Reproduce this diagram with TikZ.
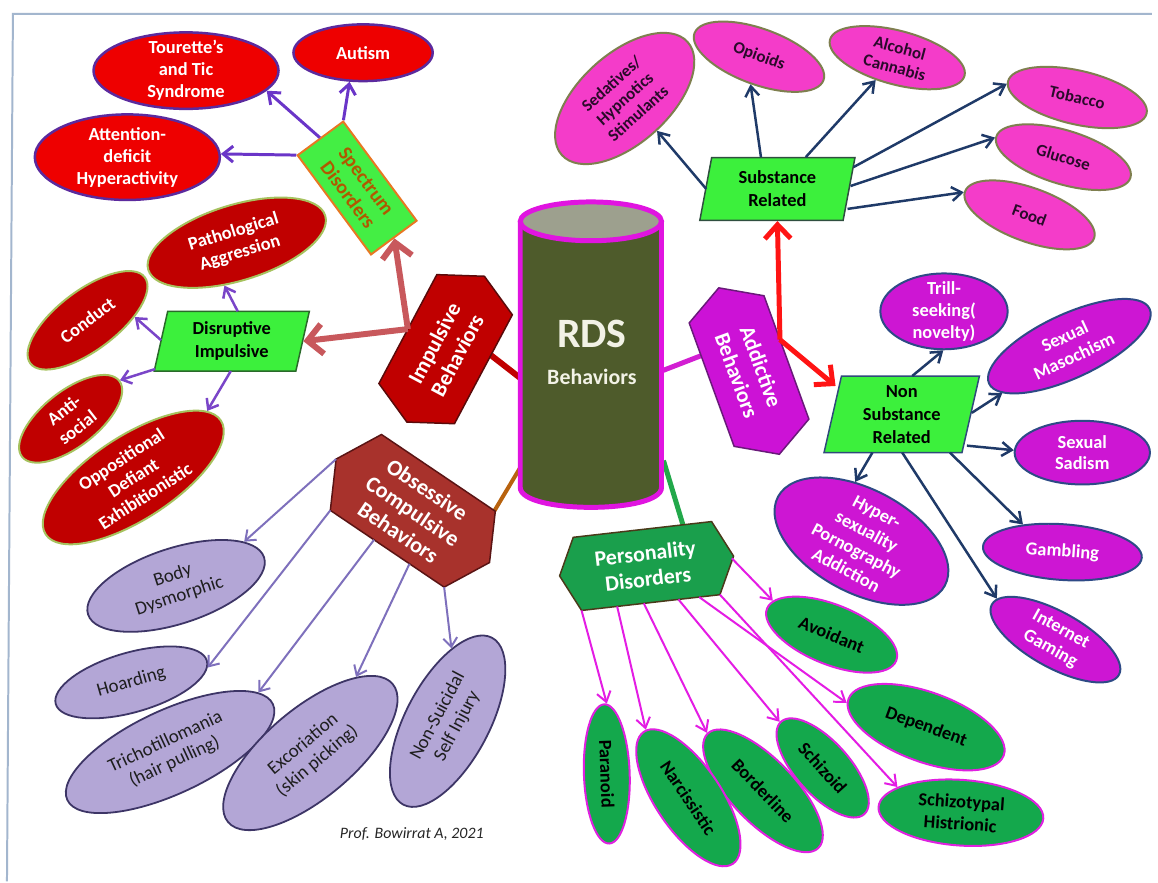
\documentclass[tikz,border=0pt]{standalone}
\usepackage{fontspec}
\setmainfont{Carlito}
\usetikzlibrary{shapes.geometric,arrows.meta,backgrounds}
\definecolor{frameC}{HTML}{A3B6CE}
\definecolor{redA}{HTML}{EE0000}
\definecolor{purpA}{HTML}{5B2A9E}
\definecolor{dredA}{HTML}{C00000}
\definecolor{oliveB}{HTML}{A6C25E}
\definecolor{impF}{HTML}{C00000}
\definecolor{impD}{HTML}{5A0A0A}
\definecolor{specF}{HTML}{44EE44}
\definecolor{specD}{HTML}{E87722}
\definecolor{specT}{HTML}{B05800}
\definecolor{pgF}{HTML}{3CF03C}
\definecolor{disD}{HTML}{2A6A2A}
\definecolor{subD}{HTML}{2F4F3F}
\definecolor{nsD}{HTML}{2F4A7A}
\definecolor{pinkA}{HTML}{F43CC9}
\definecolor{oliveC}{HTML}{7F7F4F}
\definecolor{pinkT}{HTML}{2A0A2A}
\definecolor{magA}{HTML}{CD16D3}
\definecolor{navyB}{HTML}{2E4A86}
\definecolor{addF}{HTML}{CC12D6}
\definecolor{addD}{HTML}{6A1A7A}
\definecolor{grnA}{HTML}{14A84C}
\definecolor{persF}{HTML}{1A9F4C}
\definecolor{persD}{HTML}{4A3A1A}
\definecolor{magB}{HTML}{E020E0}
\definecolor{lavA}{HTML}{B3A6D6}
\definecolor{lavB}{HTML}{3D3566}
\definecolor{lavT}{HTML}{1E1E1E}
\definecolor{ocbF}{HTML}{A8322C}
\definecolor{ocbD}{HTML}{5A1414}
\definecolor{cylF}{HTML}{4E5B2B}
\definecolor{cylTop}{HTML}{9DA08E}
\definecolor{cylD}{HTML}{E014E0}
\definecolor{rdsT}{HTML}{F2F2E6}
\definecolor{impArr}{HTML}{C8585C}
\definecolor{specArr}{HTML}{6A35C8}
\definecolor{disArr}{HTML}{7A45C8}
\definecolor{ocbArr}{HTML}{7E70BC}
\definecolor{navyArr}{HTML}{1F3A68}
\definecolor{persArr}{HTML}{E41CE4}
\definecolor{redArr}{HTML}{FF1414}
\definecolor{lnOcbC}{HTML}{B8620E}
\definecolor{lnPersC}{HTML}{22A84A}
\definecolor{lnAddC}{HTML}{D21ED2}
\begin{document}
\begin{tikzpicture}[x=1pt,y=-1pt,
  ell/.style={ellipse, inner sep=-3pt, align=center, font=\bfseries\fontsize{18.5}{22}\selectfont},
  redell/.style={ell, fill=redA, draw=purpA, line width=2.5pt, text=white},
  dredell/.style={ell, fill=dredA, draw=oliveB, line width=2pt, text=white},
  pinkell/.style={ell, fill=pinkA, draw=oliveC, line width=2pt, text=pinkT, font=\bfseries\fontsize{17}{20}\selectfont},
  magell/.style={ell, fill=magA, draw=navyB, line width=2pt, text=white},
  grnell/.style={ell, fill=grnA, draw=magB, line width=2pt, text=black},
  lavell/.style={ell, fill=lavA, draw=lavB, line width=1.8pt, text=lavT, font=\fontsize{19}{22}\selectfont},
  pgram/.style={trapezium, trapezium stretches=true, fill=pgF, line width=1.5pt, align=center, inner sep=0pt, text=black, font=\bfseries\fontsize{18.5}{23}\selectfont},
  specbox/.style={rectangle, fill=specF, draw=specD, line width=2pt, align=center, inner sep=0pt, text=specT, font=\bfseries\fontsize{20}{23}\selectfont},
  hexImp/.style={fill=impF, draw=impD, line width=1.5pt},
  hexAdd/.style={fill=addF, draw=addD, line width=1.5pt},
  hexOcb/.style={fill=ocbF, draw=ocbD, line width=1.5pt},
  hexPers/.style={fill=persF, draw=persD, line width=1.5pt},
  hexText/.style={align=center, inner sep=0pt, text=white, font=\bfseries\fontsize{22}{26}\selectfont},
  aImp/.style={draw=impArr, line width=6pt, -{Straight Barb[length=15pt,width=30pt]}},
  aRed/.style={draw=redArr, line width=5pt, -{Straight Barb[length=14pt,width=26pt]}},
  aSpec/.style={draw=specArr, line width=3pt, -{Straight Barb[length=10pt,width=16pt]}},
  aDis/.style={draw=disArr, line width=2.5pt, -{Straight Barb[length=9pt,width=14pt]}},
  aOcb/.style={draw=ocbArr, line width=2pt, -{Straight Barb[length=9pt,width=14pt]}},
  aNavy/.style={draw=navyArr, line width=2.5pt, -{Straight Barb[length=10pt,width=14pt]}},
  aPers/.style={draw=persArr, line width=2pt, -{Straight Barb[length=10pt,width=14pt]}}
]
\begin{pgfonlayer}{background}
\path[use as bounding box, fill=white] (0,0) rectangle (1158,886);
\end{pgfonlayer}
% frame
\draw[frameC, line width=2pt] (1158,14) -- (13,14) -- (7,886);

% ---------- central cylinder ----------
\fill[cylF] (523,223) -- (523,490) .. controls (523,516.7) and (665,516.7) .. (665,490) -- (665,223) -- cycle;
\draw[cylD, line width=5pt] (523,223) -- (523,490) .. controls (523,516.7) and (665,516.7) .. (665,490) -- (665,223);
\draw[cylD, line width=5pt, fill=cylTop] (594,222.5) ellipse [x radius=71, y radius=19.5];
\node[text=rdsT, font=\bfseries\fontsize{42}{46}\selectfont, inner sep=0pt] (rds) at (595,336) {RDS};
\node[text=rdsT, font=\bfseries\fontsize{22}{26}\selectfont, inner sep=0pt] (rdsb) at (595,379) {Behaviors};
\coordinate (cylImp) at (523,380);
\coordinate (cylAdd) at (665,373);
\coordinate (cylOcb) at (523,470);
\coordinate (cylPers) at (667,463);

% ---------- hexagons ----------
\begin{scope}[shift={(448,351)}, rotate=62]
  \draw[hexImp] (-83,0) -- (-62,-43) -- (62,-43) -- (83,0) -- (62,43) -- (-62,43) -- cycle;
  \node[hexText, transform shape] (imp) at (0,0) {Impulsive\\Behaviors};
  \coordinate (impN) at (0,-43);
  \coordinate (impS) at (16,43);
\end{scope}
\begin{scope}[shift={(753,373)}, rotate=-70]
  \draw[hexAdd] (-89,0) -- (-66,-40) -- (66,-40) -- (89,0) -- (66,40) -- (-66,40) -- cycle;
  \node[hexText, transform shape] (add) at (0,0) {Addictive\\Behaviors};
  \coordinate (addW) at (-31,40);
  \coordinate (addJ) at (-19,-40);
\end{scope}
\begin{scope}[shift={(415,513.5)}, rotate=-34]
  \draw[hexOcb] (-93,0) -- (-69,-46) -- (69,-46) -- (93,0) -- (69,46) -- (-69,46) -- cycle;
  \node[hexText, transform shape, font=\bfseries\fontsize{22.5}{26}\selectfont] (ocb) at (0,0) {Obsessive\\Compulsive\\Behaviors};
  \coordinate (ocbNE) at (68,-46);
  \coordinate (ocbBody) at (-93,0);
  \coordinate (ocbHoard) at (-69,46);
  \coordinate (ocbTrich) at (-16,46);
  \coordinate (ocbExc) at (27,46);
  \coordinate (ocbNssi) at (69,46);
\end{scope}
\begin{scope}[shift={(650,569)}, rotate=6.5]
  \draw[hexPers] (-88,0) -- (-70,-37) -- (70,-37) -- (88,0) -- (70,37) -- (-70,37) -- cycle;
  \node[hexText, transform shape] (pers) at (0,0) {Personality\\Disorders};
  \coordinate (persN) at (41,-37);
  \coordinate (pPara) at (-70,37);
  \coordinate (pNarc) at (-34,37);
  \coordinate (pBord) at (-7,37);
  \coordinate (pSchzd) at (28,37);
  \coordinate (pDep) at (49,37);
  \coordinate (pSchtyp) at (70,37);
  \coordinate (pAvoid) at (86,2);
\end{scope}

% ---------- impulsive branch ----------
\node[specbox, minimum width=124, minimum height=57, rotate=-53.5] (spec) at (359,189) {Spectrum\\Disorders};
\node[redell, minimum width=186, minimum height=76] (tour) at (187,71) {Tourette’s\\and Tic\\Syndrome};
\node[redell, minimum width=140, minimum height=57] (aut) at (365,53) {Autism};
\node[redell, minimum width=186, minimum height=86] (adhd) at (128,158) {Attention-\\deficit\\Hyperactivity};
\node[pgram, draw=disD, trapezium left angle=78, trapezium right angle=102, minimum width=156, minimum height=60] (dis) at (233,343) {Disruptive\\Impulsive};
\node[dredell, minimum width=186, minimum height=76, rotate=17] (path) at (238,244) {Pathological\\Aggression};
\node[dredell, minimum width=144, minimum height=60, rotate=37] (cond) at (88,322) {Conduct};
\node[dredell, minimum width=124, minimum height=56, rotate=38] (anti) at (71,421) {Anti-\\social};
\node[dredell, minimum width=210, minimum height=84, rotate=33] (opp) at (134,480) {Oppositional\\Defiant\\Exhibitionistic};
\coordinate (dPath) at (239,313);
\coordinate (dCond) at (162,342);
\coordinate (dAnti) at (156,371);
\coordinate (dOpp) at (232,373);

% ---------- OCB branch ----------
\node[lavell, minimum width=186, minimum height=76, rotate=18] (body) at (177,589) {Body\\Dysmorphic};
\node[lavell, minimum width=158, minimum height=60, rotate=16] (hoard) at (132,686) {Hoarding};
\node[lavell, minimum width=228, minimum height=84, rotate=25] (trich) at (171,756) {Trichotillomania\\(hair pulling)};
\node[lavell, minimum width=216, minimum height=90, rotate=40] (exc) at (312,757) {Excoriation\\(skin picking)};
\node[lavell, minimum width=190, minimum height=84, rotate=62] (nssi) at (450,725) {Non-Suicidal\\Self Injury};
\node[font=\itshape\fontsize{16}{18}\selectfont, text=black!85] (sig) at (414,838) {Prof. Bowirrat A, 2021};

% ---------- substance branch ----------
\node[pgram, draw=subD, trapezium left angle=79, trapezium right angle=101, minimum width=157, minimum height=63] (sub) at (781.5,190) {Substance\\Related};
\node[pinkell, minimum width=170, minimum height=90, rotate=42] (sed) at (628,99) {Sedatives/\\Hypnotics\\Stimulants};
\node[pinkell, minimum width=138, minimum height=56, rotate=-20] (opi) at (763,57) {Opioids};
\node[pinkell, minimum width=140, minimum height=54, rotate=-15] (alc) at (902,58) {Alcohol\\Cannabis};
\node[pinkell, minimum width=143, minimum height=54, rotate=-13] (tob) at (1083,98) {Tobacco};
\node[pinkell, minimum width=141, minimum height=54, rotate=-17] (glu) at (1069,158) {Glucose};
\node[pinkell, minimum width=138, minimum height=54, rotate=-20] (food) at (1035,216) {Food};
\coordinate (sSed) at (710,190);
\coordinate (sOpi) at (765,158);
\coordinate (sAlc) at (810,158);
\coordinate (sTob) at (858,168);
\coordinate (sGlu) at (855,187);
\coordinate (sFood) at (852,210);

% ---------- non substance branch ----------
\node[pgram, draw=nsD, trapezium left angle=79, trapezium right angle=101, minimum width=157, minimum height=77] (nonsub) at (906.5,416.5) {Non\\Substance\\Related};
\node[magell, minimum width=128, minimum height=70] (trill) at (949,313) {Trill-\\seeking(\\novelty)};
\node[magell, minimum width=178, minimum height=64, rotate=25] (maso) at (1075,348) {Sexual\\Masochism};
\node[magell, minimum width=136, minimum height=64] (sad) at (1088,455) {Sexual\\Sadism};
\node[magell, minimum width=160, minimum height=56, rotate=-4] (gamb) at (1068,555) {Gambling};
\node[magell, minimum width=146, minimum height=56, rotate=-29] (inet) at (1061,643) {Internet\\Gaming};
\node[magell, minimum width=190, minimum height=104, rotate=-28] (hyp) at (866,544) {Hyper-\\sexuality\\Pornography\\Addiction};
\coordinate (nTrill) at (917,378);
\coordinate (nMaso) at (977,415);
\coordinate (nSad) at (972,448);
\coordinate (nGamb) at (955,455);
\coordinate (nInet) at (907,455);
\coordinate (nHyp) at (877,455);
\coordinate (nsW) at (840,388);

% ---------- personality branch ----------
\node[grnell, minimum width=140, minimum height=60, rotate=-22] (avoid) at (836,638) {Avoidant};
\node[grnell, minimum width=166, minimum height=70, rotate=-20] (dep) at (931,731) {Dependent};
\node[grnell, minimum width=166, minimum height=66, rotate=-4] (schtyp) at (966,817) {Schizotypal\\Histrionic};
\node[grnell, minimum width=125, minimum height=54, rotate=-48] (schzd) at (827,772) {Schizoid};
\node[grnell, minimum width=160, minimum height=64, rotate=-46] (bord) at (767,795) {Borderline};
\node[grnell, minimum width=160, minimum height=66, rotate=-56] (narc) at (692,802) {Narcissistic};
\node[grnell, minimum width=140, minimum height=46, rotate=-88] (para) at (610,778) {Paranoid};

% ---------- connectors ----------
\begin{pgfonlayer}{background}
\draw[dredA, line width=6pt] (cylImp) -- (impS);
\draw[lnAddC, line width=5pt] (cylAdd) -- (addW);
\draw[lnOcbC, line width=4pt] (cylOcb) -- (ocbNE);
\draw[lnPersC, line width=5pt] (cylPers) -- (persN);
\end{pgfonlayer}

\draw[aImp] (impN) -- (spec.east);
\draw[aImp] (impN) -- (dis.east);
\draw[aSpec] (spec.west) -- (tour.-14);
\draw[aSpec] (spec.north west) -- (aut.-115);
\draw[aSpec] (spec.south west) -- (adhd.2);
\draw[aDis] (dPath) -- (path.-123);
\draw[aDis] (dCond) -- (cond.-33);
\draw[aDis] (dAnti) -- (anti.0);
\draw[aDis] (dOpp) -- (opp.9);

\draw[aOcb] (ocbBody) -- (body.15);
\draw[aOcb] (ocbHoard) -- (hoard.-5);
\draw[aOcb] (ocbTrich) -- (trich.9);
\draw[aOcb] (ocbExc) -- (exc.19);
\draw[aOcb] (ocbNssi) -- (nssi.25);

\draw[aNavy] (sSed) -- (sed.-87);
\draw[aNavy] (sOpi) -- (opi.-87);
\draw[aNavy] (sAlc) -- (alc.-119);
\draw[aNavy] (sTob) -- (tob.182);
\draw[aNavy] (sGlu) -- (glu.181);
\draw[aNavy] (sFood) -- (food.181);

\draw[aNavy] (nTrill) -- (trill.-91);
\draw[aNavy] (nMaso) -- (maso.190);
\draw[aNavy] (nSad) -- (sad.178);
\draw[aNavy] (nGamb) -- (gamb.149);
\draw[aNavy] (nInet) -- (inet.174);
\draw[aNavy] (nHyp) -- (hyp.124);

\draw[aRed] (addJ) -- (sub.south);
\draw[aRed] (addJ) -- (nsW);

\draw[aPers] (pPara) -- (para.178);
\draw[aPers] (pNarc) -- (narc.178);
\draw[aPers] (pBord) -- (bord.180);
\draw[aPers] (pSchzd) -- (schzd.181);
\draw[aPers] (pDep) -- (dep.183);
\draw[aPers] (pSchtyp) -- (schtyp.162);
\draw[aPers] (pAvoid) -- (avoid.172);
\end{tikzpicture}
\end{document}
